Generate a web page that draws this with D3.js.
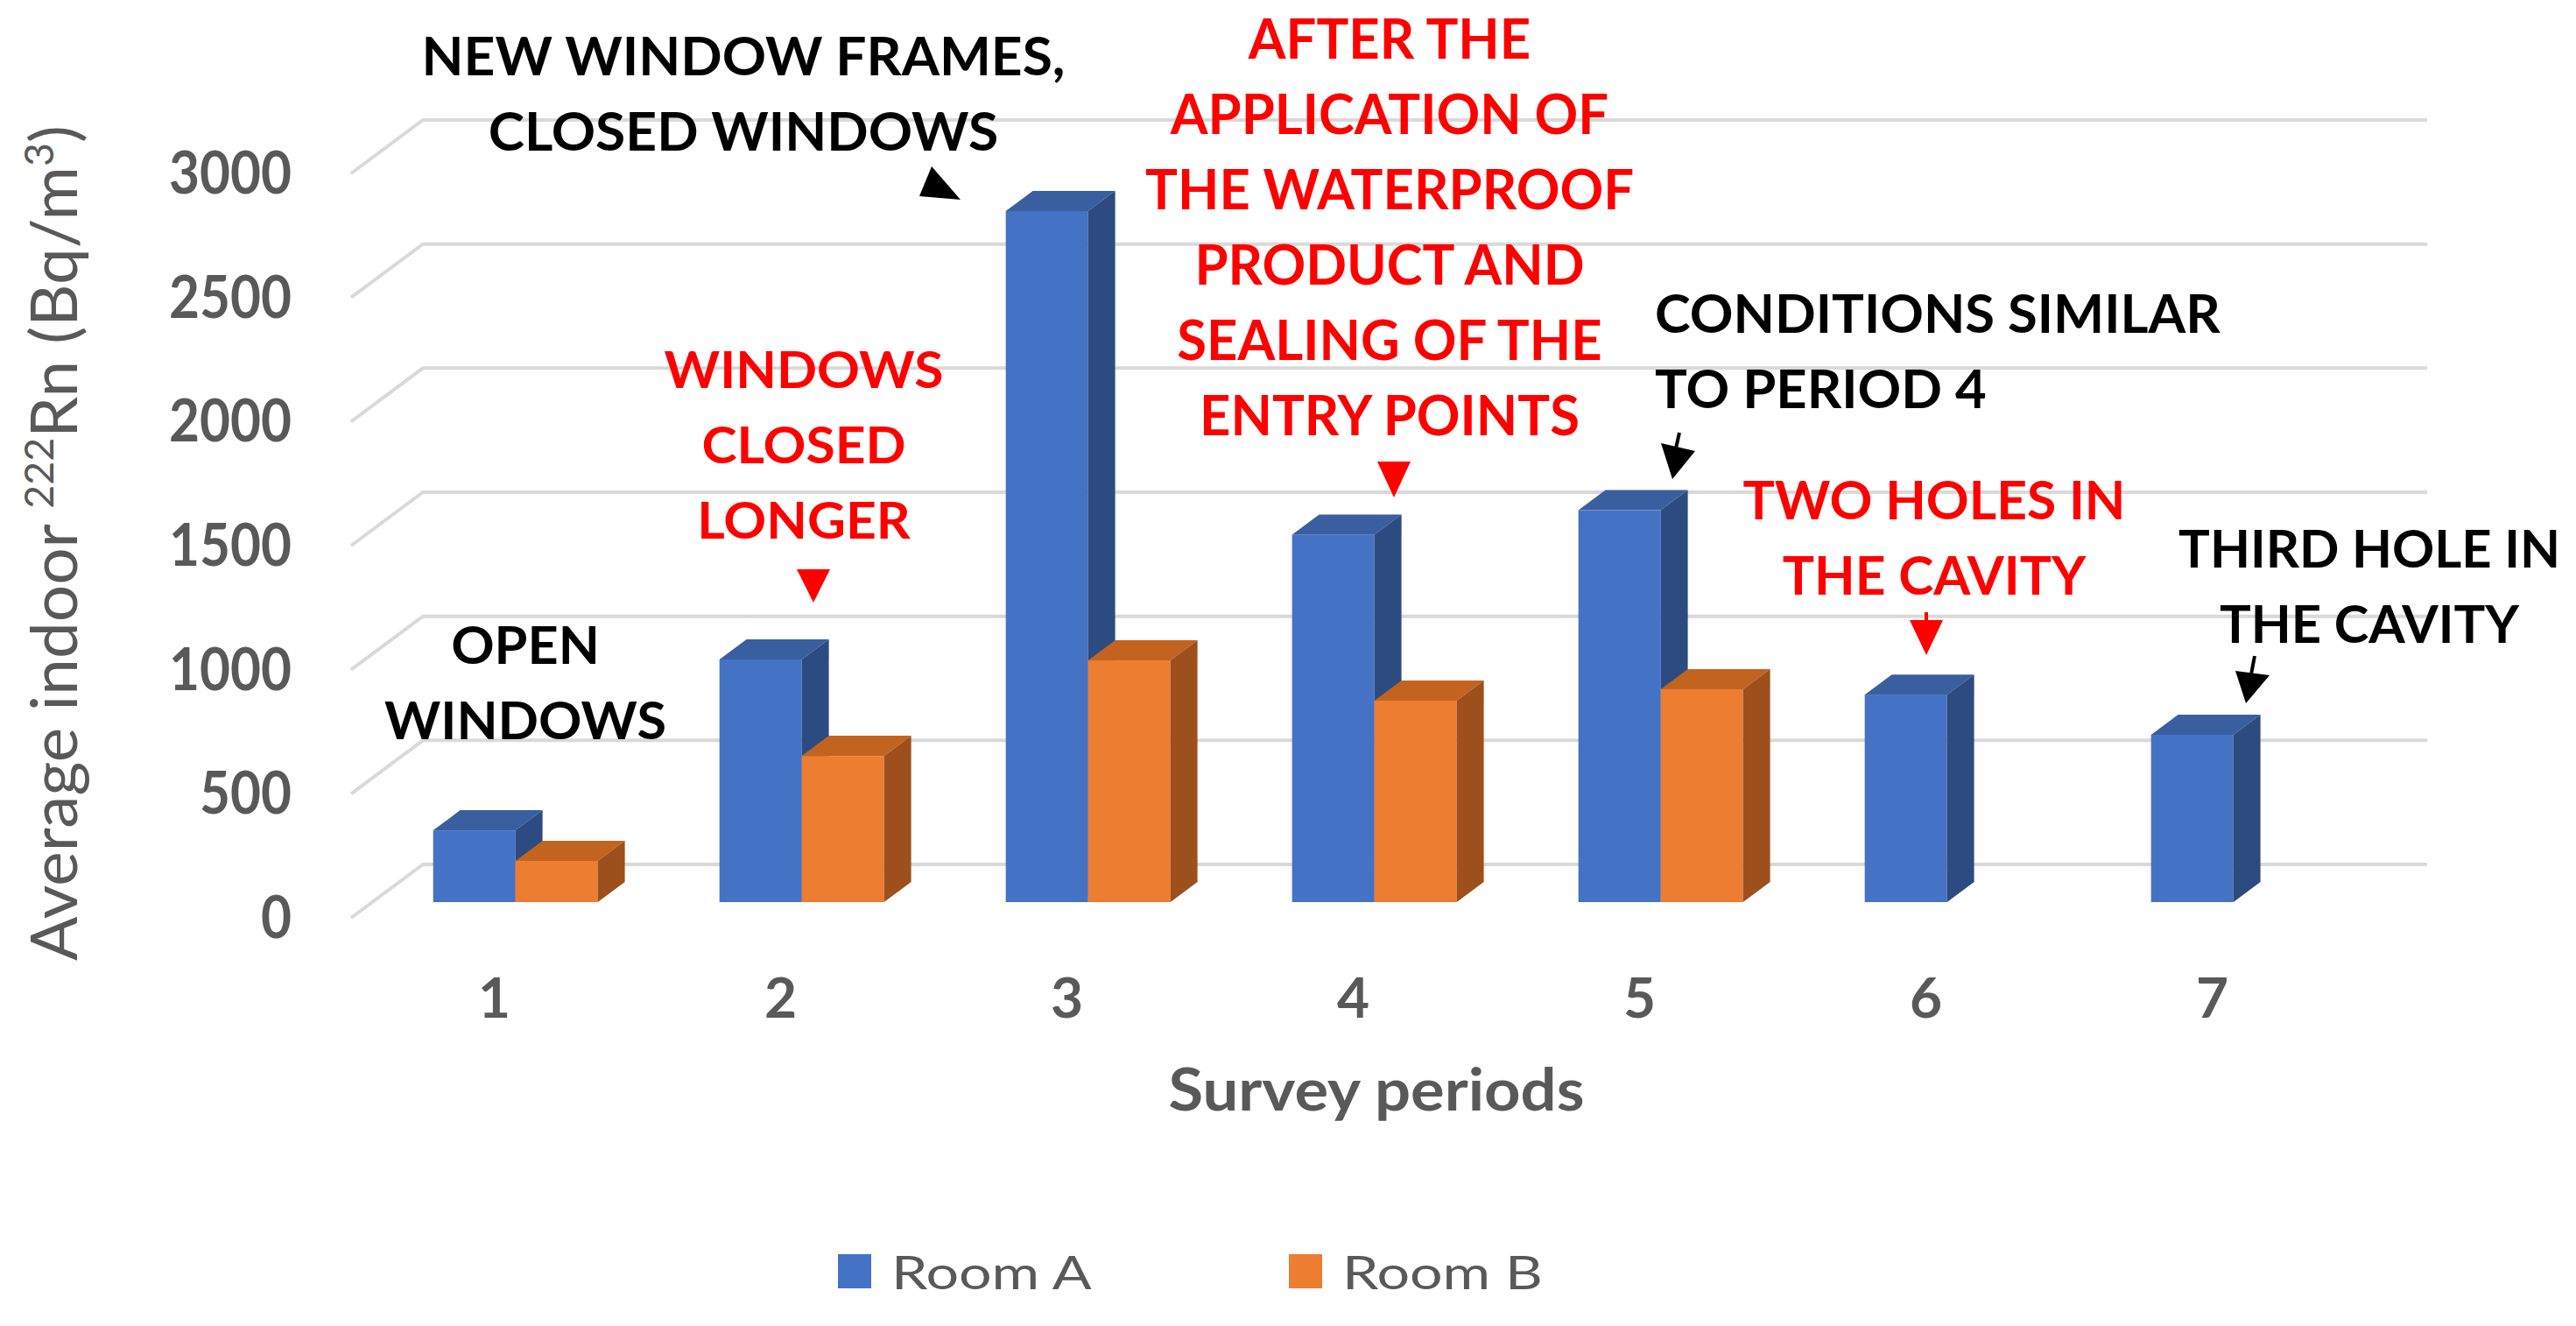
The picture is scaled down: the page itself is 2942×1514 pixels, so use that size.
<!DOCTYPE html>
<html>
<head>
<meta charset="utf-8">
<script src="https://cdn.jsdelivr.net/npm/d3@7"></script>
<style>
  body { margin: 0; background: #fff; }
  svg { display: block; }
</style>
</head>
<body>
<svg id="chart" width="2942" height="1514"></svg>
<script>
// ---- data ----
var periods = ["1", "2", "3", "4", "5", "6", "7"];
var seriesNames = ["Room A", "Room B"];
var roomA = [289, 978, 2785, 1481, 1579, 836, 674];
var roomB = [166, 589, 974, 812, 858, null, null];
var yTicks = [0, 500, 1000, 1500, 2000, 2500, 3000];

var noteTexts = [
    ["NEW WINDOW FRAMES,", "CLOSED WINDOWS"],
    ["WINDOWS", "CLOSED", "LONGER"],
    ["OPEN", "WINDOWS"],
    ["AFTER THE", "APPLICATION OF", "THE WATERPROOF", "PRODUCT AND", "SEALING OF THE", "ENTRY POINTS"],
    ["CONDITIONS SIMILAR", "TO PERIOD 4"],
    ["TWO HOLES IN", "THE CAVITY"],
    ["THIRD HOLE IN", "THE CAVITY"]
];
var noteColors = ["#000", "#ff0000", "#000", "#ff0000", "#000", "#ff0000", "#000"];

// ---- layout / style ----
var FONT = "Lato, 'Open Sans', sans-serif";
var GRAY = "#595959";
var depth = {dx: 82, dy: -61};      // oblique floor depth
var barZ = [0.295, 0.672];          // bar front/back as fraction of depth
var faceColors = {
    "Room A": {front: "#4472C4", top: "#3A5FA0", side: "#2C4B80"},
    "Room B": {front: "#ED7D31", top: "#C2641F", side: "#9D501C"}
};

var noteLayout = [
    {x: 849, y: 86, size: 61, target: 735, anchor: "middle"},
    {x: 918, y: 443, size: 58, target: 319, anchor: "middle"},
    {x: 600, y: 758, size: 60, target: 322, anchor: "middle"},
    {x: 1587, y: 67, size: 64, target: 558, anchor: "middle"},
    {x: 1890, y: 380, size: 62, target: 646, anchor: "start"},
    {x: 2209, y: 593, size: 62, target: 437, anchor: "middle"},
    {x: 2706, y: 648, size: 60, target: 436, anchor: "middle"}
];
var lineGap = 86;

var arrowShapes = [
    {color: "#000", head: [[1064, 190], [1050, 224], [1097, 228]]},
    {color: "#ff0000", head: [[910, 650], [948, 650], [929, 688]]},
    {color: "#ff0000", head: [[1573, 527], [1611, 527], [1592, 568]]},
    {color: "#000", shaft: [[1918, 494], [1914, 512]], head: [[1897, 506], [1936, 515], [1910, 547]]},
    {color: "#ff0000", shaft: [[2200, 699], [2200, 712]], head: [[2181, 708], [2219, 708], [2200, 748]]},
    {color: "#000", shaft: [[2575, 749], [2571, 770]], head: [[2553, 766], [2592, 771], [2565, 803]]}
];

var svg = d3.select("#chart");

var x = d3.scaleBand().domain(periods).range([401, 401 + 7 * 327])
    .paddingInner(0.425).paddingOuter(0.2125);
var xSub = d3.scaleBand().domain(seriesNames).range([0, x.bandwidth()]);
var y = d3.scaleLinear().domain([0, 3000]).range([1048, 198]);

// put a set of text lines on the page, squeezed/stretched so the widest one hits `target`
function fitLines(parent, items, o) {
    var groups = items.map(function(it) {
        var g = parent.append("g");
        var t = g.append("text")
            .attr("text-anchor", o.anchor || "middle")
            .style("font-family", o.family || FONT)
            .style("font-size", o.size + "px")
            .style("font-weight", o.weight || 700)
            .attr("fill", o.fill)
            .text(it.text);
        return {g: g, t: t, it: it};
    });
    var widest = d3.max(groups, function(d) { return d.t.node().getComputedTextLength(); });
    var s = o.target ? o.target / widest : 1;
    groups.forEach(function(d) {
        d.g.attr("transform", "translate(" + d.it.x + "," + d.it.y + ") scale(" + s + ",1)");
    });
    return s;
}

// ---- gridlines (left wall diagonal + back wall) ----
var gx0 = x.range()[0], gx1 = x.range()[1];
svg.append("g").selectAll("polyline")
    .data(yTicks)
    .enter().append("polyline")
    .attr("points", function(v) {
        return [[gx0, y(v)], [gx0 + depth.dx, y(v) + depth.dy], [gx1 + depth.dx, y(v) + depth.dy]].join(" ");
    })
    .attr("fill", "none")
    .attr("stroke", "#d9d9d9")
    .attr("stroke-width", 4);

// ---- 3D columns ----
var bars = [];
periods.forEach(function(p, i) {
    if (roomA[i] != null) bars.push({p: p, s: "Room A", v: roomA[i]});
    if (roomB[i] != null) bars.push({p: p, s: "Room B", v: roomB[i]});
});

var fz = barZ[0], dz = barZ[1] - barZ[0];
var barG = svg.append("g").selectAll("g.bar")
    .data(bars)
    .enter().append("g").attr("class", "bar");

barG.each(function(d) {
    var g = d3.select(this);
    var bx = x(d.p) + xSub(d.s) + fz * depth.dx;
    var bw = xSub.bandwidth();
    var yt = y(d.v) + fz * depth.dy;
    var yb = y(0) + fz * depth.dy;
    var ddx = dz * depth.dx, ddy = dz * depth.dy;
    var c = faceColors[d.s];
    g.append("rect").attr("x", bx).attr("y", yt).attr("width", bw).attr("height", yb - yt)
        .attr("fill", c.front);
    g.append("polygon")
        .attr("points", [[bx, yt], [bx + bw, yt], [bx + bw + ddx, yt + ddy], [bx + ddx, yt + ddy]].join(" "))
        .attr("fill", c.top);
    g.append("polygon")
        .attr("points", [[bx + bw, yt], [bx + bw + ddx, yt + ddy], [bx + bw + ddx, yb + ddy], [bx + bw, yb]].join(" "))
        .attr("fill", c.side);
});

// ---- value axis labels ----
fitLines(svg.append("g"), yTicks.map(function(v) {
    return {text: String(v), x: 333, y: y(v) + 23};
}), {size: 66, fill: GRAY, anchor: "end", target: 140});

// ---- category labels ----
fitLines(svg.append("g"), periods.map(function(p) {
    return {text: p, x: x(p) + x.bandwidth() / 2, y: 1162};
}), {size: 64, fill: GRAY, anchor: "middle"});

// ---- axis titles ----
fitLines(svg.append("g"), [{text: "Survey periods", x: 1572, y: 1268}],
    {size: 66, fill: GRAY, anchor: "middle", target: 475});

var yTitleG = svg.append("g");
var yTitle = yTitleG.append("text")
    .attr("text-anchor", "middle")
    .style("font-family", FONT)
    .style("font-size", "74px")
    .attr("fill", GRAY);
yTitle.append("tspan").text("Average indoor ");
yTitle.append("tspan").attr("dy", -27).style("font-size", "46px").text("222");
yTitle.append("tspan").attr("dy", 27).text("Rn (Bq/m");
yTitle.append("tspan").attr("dy", -27).style("font-size", "46px").text("3");
yTitle.append("tspan").attr("dy", 27).text(")");
var ys = 954 / yTitle.node().getComputedTextLength();
yTitleG.attr("transform", "translate(88,620) rotate(-90) scale(" + ys + ",1)");

// ---- annotations ----
var noteG = svg.append("g");
noteTexts.forEach(function(lines, k) {
    var L = noteLayout[k];
    fitLines(noteG, lines.map(function(t, j) {
        return {text: t, x: L.x, y: L.y + j * lineGap};
    }), {size: L.size, fill: noteColors[k], anchor: L.anchor, target: L.target});
});

var arrowG = svg.append("g");
arrowShapes.forEach(function(a) {
    if (a.shaft) {
        arrowG.append("line")
            .attr("x1", a.shaft[0][0]).attr("y1", a.shaft[0][1])
            .attr("x2", a.shaft[1][0]).attr("y2", a.shaft[1][1])
            .attr("stroke", a.color).attr("stroke-width", 4);
    }
    arrowG.append("polygon").attr("points", a.head.join(" ")).attr("fill", a.color);
});

// ---- legend ----
var legX = [957, 1472];
var legG = svg.append("g");
seriesNames.forEach(function(s, i) {
    legG.append("rect").attr("x", legX[i]).attr("y", 1432).attr("width", 38).attr("height", 39)
        .attr("fill", faceColors[s].front);
});
fitLines(legG, seriesNames.map(function(s, i) {
    return {text: s, x: legX[i] + 61, y: 1472};
}), {size: 52, weight: 400, fill: GRAY, anchor: "start", target: 229});
</script>
</body>
</html>
